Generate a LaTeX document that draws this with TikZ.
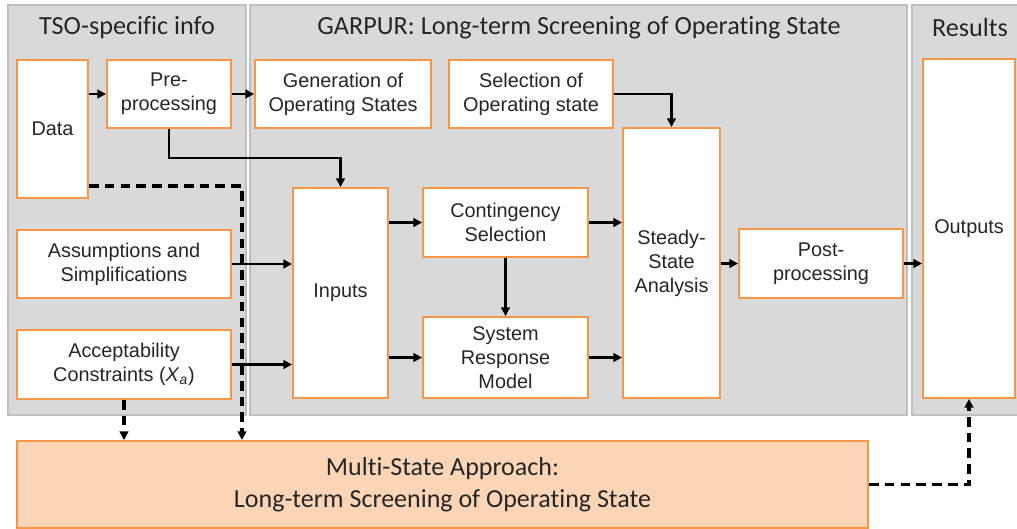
\documentclass[tikz,border=0pt]{standalone}
\usepackage{fontspec}
\setmainfont{Liberation Sans}
\newfontfamily\calfont[Ligatures=NoCommon]{Carlito}
\usetikzlibrary{arrows.meta}

\definecolor{panelgray}{HTML}{D9D9D9}
\definecolor{panelline}{HTML}{BFBFBF}
\definecolor{boxorange}{HTML}{F79646}
\definecolor{lightorange}{HTML}{FBD5B5}
\definecolor{textgray}{HTML}{262626}

\begin{document}
\begin{tikzpicture}[x=0.02cm,y=-0.02cm,
	>={Triangle[length=5pt,width=5pt]},
	box/.style={draw=boxorange,fill=white,line width=1.1pt,align=center,inner sep=2pt,text=textgray,font=\fontsize{11.3}{13.6}\selectfont},
	panel/.style={fill=panelgray,draw=panelline,line width=0.6pt},
	title/.style={text=textgray,align=center,font=\calfont\fontsize{14.9}{18}\selectfont},
	link/.style={->,line width=1.4pt},
	dlink/.style={->,line width=1.8pt,dash pattern=on 5.5pt off 3.5pt}]
				
				\useasboundingbox (0,0) rectangle (1017,528);
				
				% panels
				\draw[panel] (8,5) rectangle (246,415);
				\draw[panel] (250,5) rectangle (907,415);
				\draw[panel] (912,5) rectangle (1030,415);
				
				\node[title] (tsoTitle) at (127,28) {TSO-specific info};
				\node[title] (garpurTitle) at (579,28) {GARPUR: Long-term Screening of Operating State};
				\node[title] (resTitle) at (970,28) {Results};
				
				% TSO-specific info
				\node[box,minimum width=1.42cm,minimum height=2.76cm] (data) at (52.5,129) {Data};
				\node[box,minimum width=2.48cm,minimum height=1.36cm] (pre) at (169,94) {Pre-\\processing};
				\node[box,minimum width=4.28cm,minimum height=1.36cm] (assum) at (124,264) {Assumptions and\\Simplifications};
				\node[box,minimum width=4.28cm,minimum height=1.38cm] (accept) at (124,364.5) {Acceptability\\Constraints (\textit{X}\textsubscript{\textit{a}})};
				
				% GARPUR
				\node[box,minimum width=3.52cm,minimum height=1.36cm] (gen) at (343,94) {Generation of\\Operating States};
				\node[box,minimum width=3.28cm,minimum height=1.36cm] (sel) at (531,94) {Selection of\\Operating state};
				\node[box,minimum width=1.9cm,minimum height=4.2cm] (inputs) at (340.5,293) {Inputs};
				\node[box,minimum width=3.3cm,minimum height=1.38cm] (cont) at (505.5,222.5) {Contingency\\Selection};
				\node[box,minimum width=3.3cm,minimum height=1.62cm] (sysresp) at (505.5,357.5) {System\\Response\\Model};
				\node[box,minimum width=1.94cm,minimum height=5.4cm] (steady) at (671.5,263) {Steady-\\State\\Analysis};
				\node[box,minimum width=3.28cm,minimum height=1.38cm] (post) at (821,263.5) {Post-\\processing};
				
				% Results
				\node[box,minimum width=1.84cm,minimum height=6.78cm] (outputs) at (969,228.5) {Outputs};
				
				% Multi-state box
				\node[box,fill=lightorange,minimum width=17.02cm,minimum height=1.74cm,font=\calfont\fontsize{14.8}{18}\selectfont] (multi) at (442.5,484.5) {Multi-State Approach:\\Long-term Screening of Operating State};
				
				\coordinate (bendA) at (250,158);
				\coordinate (bendB) at (242,186);
				
				\draw[link] (data.east |- pre.west) -- (pre.west);
				\draw[link] (pre) -- (gen);
				\draw[link] (pre.south) |- (bendA) -| (inputs.north);
				\draw[link] (sel.east) -| (steady.north);
				\draw[link] (assum.east) -- (assum.east -| inputs.west);
				\draw[link] (accept.east) -- (accept.east -| inputs.west);
				\draw[link] (inputs.east |- cont.west) -- (cont.west);
				\draw[link] (inputs.east |- sysresp.west) -- (sysresp.west);
				\draw[link] (cont.south) -- (sysresp.north);
				\draw[link] (cont.east) -- (cont.east -| steady.west);
				\draw[link] (sysresp.east) -- (sysresp.east -| steady.west);
				\draw[link] (steady.east |- post.west) -- (post.west);
				\draw[link] (post.east) -- (post.east -| outputs.west);
				
				\draw[dlink] (data.east |- bendB) -- (bendB) -- (bendB |- multi.north);
				\draw[dlink] (accept.south) -- (accept.south |- multi.north);
				\draw[dlink] (multi.east) -| (outputs.south);
				
			\end{tikzpicture}
\end{document}
